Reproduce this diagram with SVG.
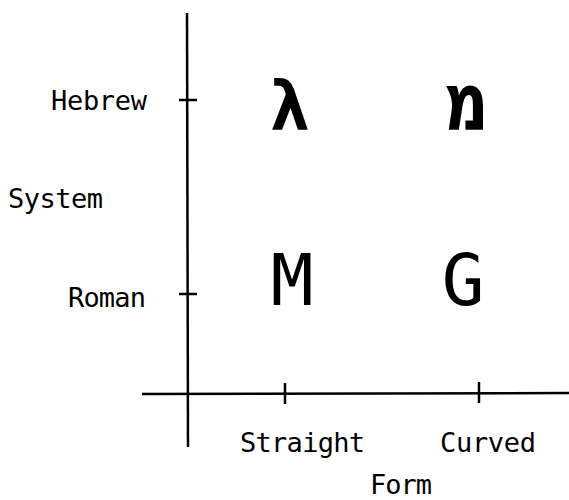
<svg xmlns="http://www.w3.org/2000/svg" width="569" height="500" viewBox="0 0 569 500">
<style>
.lbl{font-family:"DejaVu Sans Mono","Liberation Mono",monospace;font-size:27px;fill:#000}
.big{font-family:"DejaVu Sans Mono","DejaVu Sans",monospace;fill:#000}
.ax{stroke:#000;stroke-width:2.5;fill:none}
</style>
<rect width="569" height="500" fill="#fff"/>
<g id="axes" class="ax">
<line x1="187" y1="13" x2="188" y2="447"/>
<line x1="142" y1="394" x2="569" y2="393"/>
<line x1="179" y1="100" x2="197" y2="100"/>
<line x1="179" y1="294" x2="197" y2="294"/>
<line x1="285" y1="383" x2="285" y2="404"/>
<line x1="479" y1="382" x2="479" y2="403"/>
</g>
<g id="labels">
<text class="lbl" x="51" y="110" textLength="96">Hebrew</text>
<text class="lbl" x="8" y="208" textLength="95">System</text>
<text class="lbl" x="68" y="307" textLength="78">Roman</text>
<text class="lbl" x="240" y="452" textLength="125">Straight</text>
<text class="lbl" x="440" y="452" textLength="96">Curved</text>
<text class="lbl" x="370" y="494" textLength="62">Form</text>
</g>
<g id="cell-hebrew-straight"><text class="big" x="290" y="130" font-size="68" font-weight="bold" text-anchor="middle">λ</text></g>
<g id="cell-hebrew-curved"><text class="big" transform="translate(466,130) scale(0.78,1)" x="0" y="0" font-size="80" font-weight="bold" text-anchor="middle">מ</text></g>
<g id="cell-roman-straight"><text class="big" x="292" y="305" font-size="71" text-anchor="middle">M</text></g>
<g id="cell-roman-curved"><text class="big" x="463" y="305" font-size="71" text-anchor="middle">G</text></g>
</svg>
